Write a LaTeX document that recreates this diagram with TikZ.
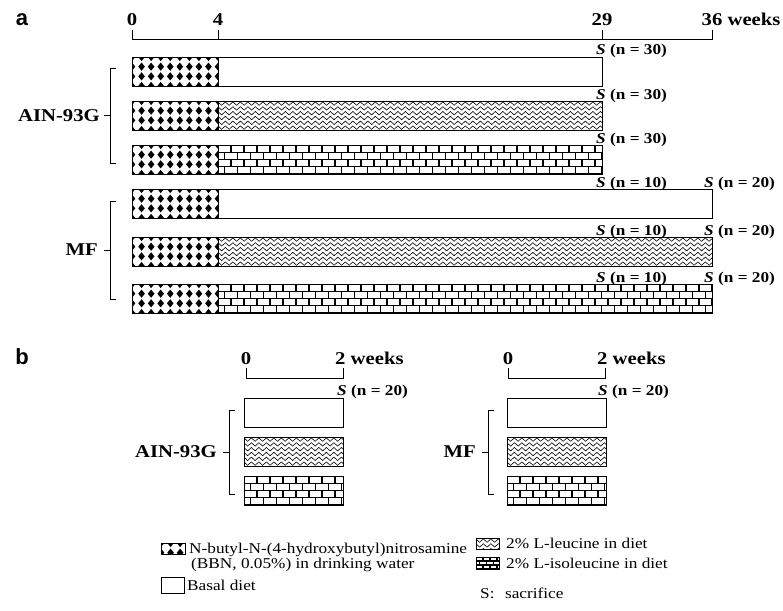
\documentclass[tikz,border=0pt]{standalone}
\usepackage{fontspec}
\newfontfamily\serifx[FakeStretch=1.15]{Liberation Serif}
\newfontfamily\sansx{Liberation Sans}
\usetikzlibrary{decorations.pathmorphing}

% BBN pattern: x0, x1, ytop, h
\newcommand\bbnfill[4]{%
  \begin{scope}
    \clip (#1,#3) rectangle (#2,#3+#4);
    \foreach \i in {0,...,9}{\foreach \j in {0,...,3}{
      \fill ({#1+\i*9.56},{#3+\j*9.67-4.1}) -- ++(3.3,4.1) -- ++(-3.3,4.1) -- ++(-3.3,-4.1) -- cycle;}}
  \end{scope}}
% wave pattern
\newcommand\wavefill[4]{%
  \begin{scope}
    \clip (#1,#3) rectangle (#2,#3+#4);
    \foreach \k in {0,...,5}{
      \draw[line width=0.6pt, decorate, decoration={zigzag, segment length=7.5pt, amplitude=1.7pt}]
        (#1-2,{#3+2.6+\k*4.8}) -- (#2+8,{#3+2.6+\k*4.8});}
  \end{scope}}
% brick pattern: x0, x1, ytop, h, rowh, brickw
\newcommand\brickfill[6]{%
  \begin{scope}
    \clip (#1,#3) rectangle (#2,#3+#4);
    \foreach \r in {0,...,4}{
      \draw[line width=1.3pt] (#1,{#3+(\r+1)*#5}) -- (#2,{#3+(\r+1)*#5});
      \foreach \m in {0,...,40}{
        \draw[line width=1.3pt] ({#1+mod(\r,2)*#6/2+\m*#6},{#3+\r*#5}) -- ++(0,#5);}}
  \end{scope}}
% full bar of panel a: ytop, xend, type
\newcommand\rowbar[3]{%
  \bbnfill{132}{218}{#1}{29}
  \ifcase#3\or\wavefill{218}{#2}{#1}{29}\or\brickfill{218}{#2}{#1}{29}{7.25}{13}\fi
  \draw[frame] (132,#1) rectangle (#2,#1+29);
  \draw[frame] (218,#1) -- (218,#1+29);}
% short bar of panel b: x0, x1, ytop, type
\newcommand\shortbar[4]{%
  \ifcase#4\or\wavefill{#1}{#2}{#3}{29}\or\brickfill{#1}{#2}{#3}{29}{7.25}{13}\fi
  \draw[frame] (#1,#3) rectangle (#2,#3+29);}

\begin{document}
\begin{tikzpicture}[x=1pt,y=-1pt,
  lbl/.style={font=\serifx\bfseries\fontsize{18}{20}\selectfont, inner sep=0pt},
  nlbl/.style={font=\serifx\bfseries\fontsize{15}{17}\selectfont, inner sep=0pt, anchor=base west},
  leg/.style={font=\serifx\fontsize{15}{17}\selectfont, inner sep=0pt, anchor=base west},
  plbl/.style={font=\sansx\bfseries\fontsize{22}{24}\selectfont, inner sep=0pt},
  frame/.style={draw=black, line width=1pt},
  axisline/.style={line width=1pt},
  brk/.style={line width=1pt}]
\useasboundingbox[fill=white] (0,0) rectangle (783,610);

% ---------------- panel a ----------------
\node[plbl] (pa) at (22,20) {a};
\coordinate (a0) at (132,40); \coordinate (a4) at (218,40);
\coordinate (a29) at (602,40); \coordinate (a36) at (712,40);
\draw[axisline] (a0) ++(0,-10) -- (a0) -- (a36) -- ++(0,-10);
\draw[axisline] (a4) -- ++(0,-10);
\draw[axisline] (a29) -- ++(0,-10);
\node[lbl, anchor=base] (l0) at (132,26) {0};
\node[lbl, anchor=base] (l4) at (218,26) {4};
\node[lbl, anchor=base] (l29) at (602,26) {29};
\node[lbl, anchor=base west] (l36) at (701.5,26) {36 weeks};

\rowbar{57}{602}{0}
\rowbar{101}{602}{1}
\rowbar{145}{602}{2}
\rowbar{189}{712}{0}
\rowbar{237}{712}{1}
\rowbar{284}{712}{2}

\node[nlbl] (s1) at (596,55) {\textit{S} (n = 30)};
\node[nlbl] (s2) at (596,99) {\textit{S} (n = 30)};
\node[nlbl] (s3) at (596,143) {\textit{S} (n = 30)};
\node[nlbl] (s4) at (596,187) {\textit{S} (n = 10)};
\node[nlbl] (s5) at (704,187) {\textit{S} (n = 20)};
\node[nlbl] (s6) at (596,235) {\textit{S} (n = 10)};
\node[nlbl] (s7) at (704,235) {\textit{S} (n = 20)};
\node[nlbl] (s8) at (596,282) {\textit{S} (n = 10)};
\node[nlbl] (s9) at (704,282) {\textit{S} (n = 20)};

\draw[brk] (116,68) -- (110,68) -- (110,163) -- (116,163);
\draw[brk] (110,115.5) -- (104,115.5);
\node[lbl, anchor=east] (ain) at (100,116) {AIN-93G};
\draw[brk] (116,201) -- (110,201) -- (110,299) -- (116,299);
\draw[brk] (110,250) -- (104,250);
\node[lbl, anchor=east] (mf) at (98,250) {MF};

% ---------------- panel b ----------------
\node[plbl] (pb) at (22,357) {b};
\coordinate (b0) at (246,378); \coordinate (b2) at (343,378);
\draw[axisline] (b0) ++(0,-10) -- (b0) -- (b2) -- ++(0,-10);
\node[lbl, anchor=base] (bl0) at (246,364) {0};
\node[lbl, anchor=base west] (bl2) at (335,364) {2 weeks};
\node[nlbl] (bs1) at (337,395) {\textit{S} (n = 20)};
\shortbar{244}{343}{398}{0}
\shortbar{244}{343}{437}{1}
\shortbar{244}{343}{476}{2}
\draw[brk] (235,410) -- (229,410) -- (229,494) -- (235,494);
\draw[brk] (229,452) -- (223,452);
\node[lbl, anchor=east] (bain) at (217,452) {AIN-93G};

\coordinate (c0) at (508,378); \coordinate (c2) at (605,378);
\draw[axisline] (c0) ++(0,-10) -- (c0) -- (c2) -- ++(0,-10);
\node[lbl, anchor=base] (cl0) at (508,364) {0};
\node[lbl, anchor=base west] (cl2) at (597,364) {2 weeks};
\node[nlbl] (cs1) at (598,395) {\textit{S} (n = 20)};
\shortbar{507}{606}{398}{0}
\shortbar{507}{606}{437}{1}
\shortbar{507}{606}{476}{2}
\draw[brk] (494,410) -- (488,410) -- (488,494) -- (494,494);
\draw[brk] (488,452) -- (482,452);
\node[lbl, anchor=east] (cmf) at (476,452) {MF};

% ---------------- legend ----------------
\bbnfill{161}{185}{543}{11}
\draw[frame] (161,543) rectangle (185,554);
\node[leg] (lg1) at (189,553) {N-butyl-N-(4-hydroxybutyl)nitrosamine};
\node[leg] (lg1b) at (191,568) {(BBN, 0.05\%) in drinking water};
\draw[frame] (161,577) rectangle (184,593);
\node[leg] (lg2) at (187,590) {Basal diet};
\wavefill{476}{499}{538}{11}
\draw[frame] (476,538) rectangle (499,549);
\node[leg] (lg3) at (506,548) {2\% L-leucine in diet};
\brickfill{476}{499}{557}{12}{4}{7}
\draw[frame] (476,557) rectangle (499,569);
\node[leg] (lg4) at (506,568) {2\% L-isoleucine in diet};
\node[leg] (lg5) at (480,598) {S:\hspace{0.7em}sacrifice};
\end{tikzpicture}
\end{document}
